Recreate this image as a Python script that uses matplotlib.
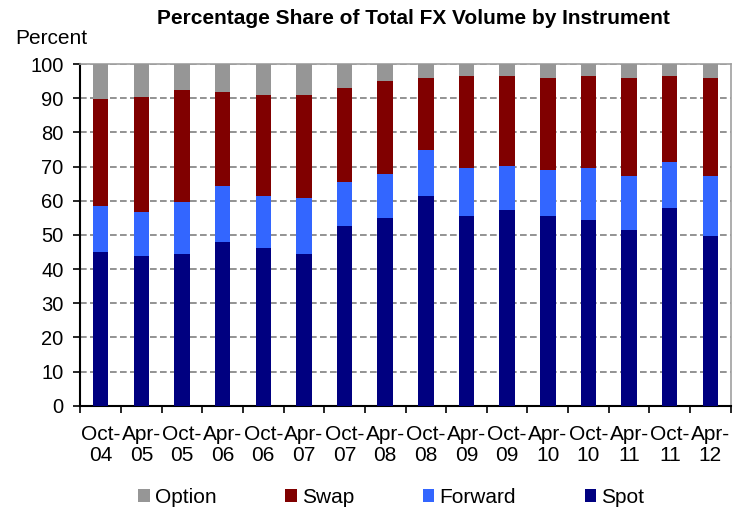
import matplotlib
matplotlib.use("Agg")
import matplotlib.pyplot as plt
import numpy as np
from matplotlib.ticker import FixedLocator, NullFormatter

categories = ["Oct-\n04", "Apr-\n05", "Oct-\n05", "Apr-\n06", "Oct-\n06", "Apr-\n07", "Oct-\n07", "Apr-\n08",
              "Oct-\n08", "Apr-\n09", "Oct-\n09", "Apr-\n10", "Oct-\n10", "Apr-\n11", "Oct-\n11", "Apr-\n12"]
spot    = [45.0, 43.8, 44.4, 47.9, 46.2, 44.4, 52.5, 54.9, 61.3, 55.5, 57.2, 55.5, 54.4, 51.5, 57.8, 49.7]
fwd_top = [58.5, 56.7, 59.7, 64.4, 61.4, 60.8, 65.5, 67.9, 74.9, 69.6, 70.2, 69.0, 69.6, 67.3, 71.4, 67.3]
swp_top = [89.9, 90.5, 92.3, 91.7, 91.1, 91.1, 92.9, 95.2, 95.8, 96.4, 96.4, 95.8, 96.4, 95.8, 96.4, 95.8]

spot = np.array(spot)
forward = np.array(fwd_top) - spot
swap = np.array(swp_top) - np.array(fwd_top)
option = 100 - np.array(swp_top)

plt.rcParams['font.family'] = ['Liberation Sans', 'DejaVu Sans']

fig = plt.figure(figsize=(7.51, 5.13), dpi=100)
ax = fig.add_axes([0.107, 0.209, 0.866, 0.666])

x = np.arange(len(categories))
w = 0.38
c_spot, c_fwd, c_swap, c_opt = "#000080", "#3366FF", "#800000", "#969696"
ax.bar(x, spot, w, color=c_spot, label="Spot", zorder=3)
ax.bar(x, forward, w, bottom=spot, color=c_fwd, label="Forward", zorder=3)
ax.bar(x, swap, w, bottom=spot + forward, color=c_swap, label="Swap", zorder=3)
ax.bar(x, option, w, bottom=spot + forward + swap, color=c_opt, label="Option", zorder=3)

ax.set_xlim(-0.5, len(categories) - 0.5)
ax.set_ylim(0, 100)
ax.set_yticks(np.arange(0, 101, 10))
ax.yaxis.grid(True, linestyle=(0, (4, 2)), color="#808080", linewidth=1.2, zorder=0)
ax.tick_params(axis='y', labelsize=14.5, length=5, width=1.2, direction='out', pad=7)

ax.set_xticks(x)
ax.set_xticklabels(categories, fontsize=15, linespacing=1.12)
ax.tick_params(axis='x', which='major', length=0, pad=14)
ax.xaxis.set_minor_locator(FixedLocator(np.arange(-0.5, len(categories), 1.0)))
ax.xaxis.set_minor_formatter(NullFormatter())
ax.tick_params(axis='x', which='minor', length=5, width=1.2, direction='out')

for s in ['left', 'bottom']:
    ax.spines[s].set_color('black')
    ax.spines[s].set_linewidth(1.5)
for s in ['top', 'right']:
    ax.spines[s].set_color('#a0a0a0')
    ax.spines[s].set_linewidth(1.2)

fig.text(0.551, 0.963, "Percentage Share of Total FX Volume by Instrument", ha='center', va='center',
         fontsize=15, fontweight='bold')
fig.text(0.020, 0.924, "Percent", ha='left', va='center', fontsize=15)

handles, labels = ax.get_legend_handles_labels()
order = [3, 2, 1, 0]
leg = fig.legend([handles[i] for i in order], [labels[i] for i in order], loc='center',
                 bbox_to_anchor=(0.521, 0.030), ncol=4, frameon=False, fontsize=15,
                 handlelength=0.55, handleheight=0.55, handletextpad=0.25, columnspacing=3.3)

fig.savefig("out.png", dpi=100)
